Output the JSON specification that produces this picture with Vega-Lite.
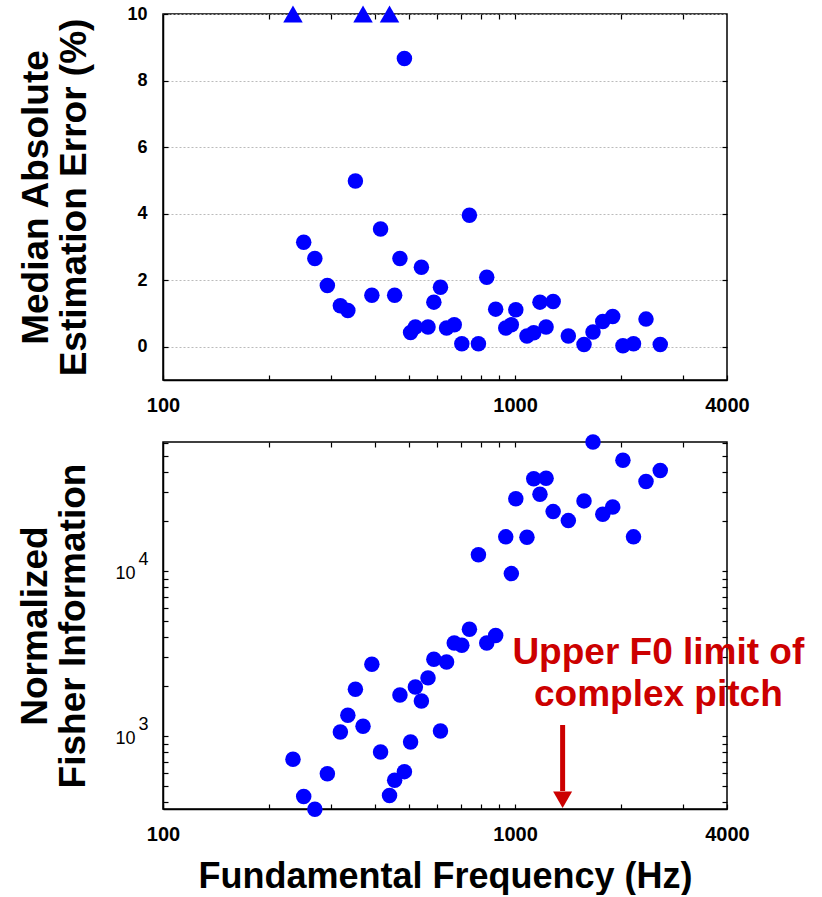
{
  "$schema": "https://vega.github.io/schema/vega-lite/v6.json",
  "background": "white",
  "padding": {"left": 16, "top": 4, "right": 5, "bottom": 0},
  "datasets": {
    "pts": [
      {"f": 234, "err": 10, "fisher": 723, "clipped": true},
      {"f": 251, "err": 3.14, "fisher": 430, "clipped": false},
      {"f": 270, "err": 2.65, "fisher": 360, "clipped": false},
      {"f": 293, "err": 1.84, "fisher": 591, "clipped": false},
      {"f": 319, "err": 1.23, "fisher": 1057, "clipped": false},
      {"f": 335, "err": 1.09, "fisher": 1335, "clipped": false},
      {"f": 352, "err": 4.98, "fisher": 1920, "clipped": false},
      {"f": 370, "err": 10, "fisher": 1145, "clipped": true},
      {"f": 392, "err": 1.55, "fisher": 2720, "clipped": false},
      {"f": 415, "err": 3.54, "fisher": 800, "clipped": false},
      {"f": 440, "err": 10, "fisher": 436, "clipped": true},
      {"f": 455, "err": 1.55, "fisher": 539, "clipped": false},
      {"f": 471, "err": 2.65, "fisher": 1770, "clipped": false},
      {"f": 485, "err": 8.66, "fisher": 608, "clipped": false},
      {"f": 505, "err": 0.43, "fisher": 920, "clipped": false},
      {"f": 521, "err": 0.59, "fisher": 1980, "clipped": false},
      {"f": 542, "err": 2.39, "fisher": 1630, "clipped": false},
      {"f": 566, "err": 0.59, "fisher": 2250, "clipped": false},
      {"f": 588, "err": 1.34, "fisher": 2920, "clipped": false},
      {"f": 614, "err": 1.79, "fisher": 1072, "clipped": false},
      {"f": 639, "err": 0.56, "fisher": 2810, "clipped": false},
      {"f": 672, "err": 0.66, "fisher": 3660, "clipped": false},
      {"f": 706, "err": 0.09, "fisher": 3550, "clipped": false},
      {"f": 742, "err": 3.95, "fisher": 4440, "clipped": false},
      {"f": 787, "err": 0.09, "fisher": 12560, "clipped": false},
      {"f": 831, "err": 2.09, "fisher": 3660, "clipped": false},
      {"f": 881, "err": 1.13, "fisher": 4060, "clipped": false},
      {"f": 941, "err": 0.56, "fisher": 16100, "clipped": false},
      {"f": 976, "err": 0.66, "fisher": 9640, "clipped": false},
      {"f": 1005, "err": 1.11, "fisher": 27400, "clipped": false},
      {"f": 1081, "err": 0.32, "fisher": 16000, "clipped": false},
      {"f": 1130, "err": 0.42, "fisher": 36200, "clipped": false},
      {"f": 1177, "err": 1.34, "fisher": 29200, "clipped": false},
      {"f": 1225, "err": 0.59, "fisher": 36500, "clipped": false},
      {"f": 1283, "err": 1.36, "fisher": 22900, "clipped": false},
      {"f": 1417, "err": 0.32, "fisher": 20200, "clipped": false},
      {"f": 1570, "err": 0.07, "fisher": 26600, "clipped": false},
      {"f": 1665, "err": 0.44, "fisher": 60500, "clipped": false},
      {"f": 1775, "err": 0.76, "fisher": 22100, "clipped": false},
      {"f": 1894, "err": 0.91, "fisher": 24400, "clipped": false},
      {"f": 2025, "err": 0.03, "fisher": 46900, "clipped": false},
      {"f": 2170, "err": 0.09, "fisher": 16100, "clipped": false},
      {"f": 2355, "err": 0.83, "fisher": 34900, "clipped": false},
      {"f": 2585, "err": 0.07, "fisher": 40700, "clipped": false}
    ],
    "arrow": [{"f": 1365, "top": 1166, "bottom": 464, "tip": 411}],
    "note": [{"f": 2553, "fisher": 2730, "label": "Upper F0 limit of|complex pitch"}]
  },
  "spacing": 62,
  "bounds": "flush",
  "vconcat": [
    {
      "width": 564,
      "height": 366,
      "data": {"name": "pts"},
      "layer": [
        {
          "transform": [{"filter": "!datum.clipped"}],
          "mark": {"type": "circle", "size": 240, "color": "#0000ff", "opacity": 1, "clip": false},
          "encoding": {
            "x": {"field": "f", "type": "quantitative",
              "scale": {"type": "log", "domain": [100, 4000], "nice": false},
              "axis": {"orient": "bottom", "title": null, "grid": false,
                "values": [100, 200, 300, 400, 500, 600, 700, 800, 900, 1000, 2000, 3000, 4000],
                "labelExpr": "datum.value == 100 || datum.value == 1000 || datum.value == 4000 ? '' + datum.value : ''",
                "tickSize": -5, "labelPadding": 20, "labelFontSize": 20, "labelFontWeight": "bold",
                "labelFlush": false, "labelOverlap": false}},
            "y": {"field": "err", "type": "quantitative",
              "scale": {"domain": [-1, 10], "nice": false, "zero": false},
              "axis": {"orient": "left", "values": [0, 2, 4, 6, 8, 10],
                "title": ["Median Absolute", "Estimation Error (%)"],
                "titleFontSize": 37, "titleFontWeight": "bold", "titleLineHeight": 38, "titlePadding": 33,
                "grid": true, "gridDash": [2, 2], "gridColor": "#bbbbbb", "gridWidth": 1,
                "tickSize": -5, "labelPadding": 21, "labelFontSize": 18, "labelFontWeight": "bold", "labelOverlap": false}}
          }
        },
        {
          "transform": [{"filter": "datum.clipped"}],
          "mark": {"type": "point", "shape": "triangle-up", "filled": true, "size": 380, "color": "#0000ff", "opacity": 1, "clip": false},
          "encoding": {
            "x": {"field": "f", "type": "quantitative",
              "scale": {"type": "log", "domain": [100, 4000], "nice": false},
              "axis": {"orient": "top", "title": null, "labels": false, "domain": false, "grid": false,
                "values": [200, 300, 400, 500, 600, 700, 800, 900, 1000, 2000, 3000], "tickSize": -5}},
            "y": {"field": "err", "type": "quantitative",
              "scale": {"domain": [-1, 10], "nice": false, "zero": false},
              "axis": {"orient": "right", "title": null, "labels": false, "domain": false, "grid": false,
                "values": [0, 2, 4, 6, 8], "tickSize": -5}}
          }
        }
      ],
      "resolve": {"axis": {"x": "independent", "y": "independent"}}
    },
    {
      "width": 564,
      "height": 367,
      "layer": [
        {
          "data": {"name": "pts"},
          "mark": {"type": "circle", "size": 240, "color": "#0000ff", "opacity": 1, "clip": false},
          "encoding": {
            "x": {"field": "f", "type": "quantitative",
              "scale": {"type": "log", "domain": [100, 4000], "nice": false},
              "axis": {"orient": "bottom", "title": "Fundamental Frequency (Hz)",
                "titleFontSize": 36, "titleFontWeight": "bold", "titlePadding": 15, "grid": false,
                "values": [100, 200, 300, 400, 500, 600, 700, 800, 900, 1000, 2000, 3000, 4000],
                "labelExpr": "datum.value == 100 || datum.value == 1000 || datum.value == 4000 ? '' + datum.value : ''",
                "tickSize": -5, "labelPadding": 20, "labelFontSize": 20, "labelFontWeight": "bold",
                "labelFlush": false, "labelOverlap": false}},
            "y": {"field": "fisher", "type": "quantitative",
              "scale": {"type": "log", "domain": [361, 60500], "nice": false},
              "axis": {"orient": "left",
                "values": [400, 500, 600, 700, 800, 900, 1000, 2000, 3000, 4000, 5000, 6000, 7000, 8000, 9000, 10000, 20000, 30000, 40000, 50000, 60000],
                "labelExpr": "datum.value == 1000 ? ['3', '10\u2800'] : datum.value == 10000 ? ['4', '10\u2800'] : ''",
                "labelBaseline": "alphabetic", "labelOffset": -6.5, "labelLineHeight": 14,
                "title": ["Normalized", "Fisher Information"],
                "titleFontSize": 37, "titleFontWeight": "bold", "titleLineHeight": 38, "titlePadding": 22,
                "grid": false, "tickSize": -5, "labelPadding": 20, "labelFontSize": 18, "labelFontWeight": "normal", "labelOverlap": false}}
          }
        },
        {
          "data": {"name": "arrow"},
          "mark": {"type": "rule", "color": "#cc0000", "strokeWidth": 5},
          "encoding": {
            "x": {"field": "f", "type": "quantitative",
              "scale": {"type": "log", "domain": [100, 4000], "nice": false},
              "axis": {"orient": "top", "title": null, "labels": false, "domain": false, "grid": false,
                "values": [200, 300, 400, 500, 600, 700, 800, 900, 1000, 2000, 3000], "tickSize": -5}},
            "y": {"field": "top", "type": "quantitative",
              "scale": {"type": "log", "domain": [361, 60500], "nice": false},
              "axis": {"orient": "right", "title": null, "labels": false, "domain": false, "grid": false,
                "values": [400, 500, 600, 700, 800, 900, 1000, 2000, 3000, 4000, 5000, 6000, 7000, 8000, 9000, 10000, 20000, 30000, 40000, 50000, 60000],
                "tickSize": -5}},
            "y2": {"field": "bottom"}
          }
        },
        {
          "data": {"name": "arrow"},
          "mark": {"type": "point", "shape": "triangle-down", "filled": true, "size": 361, "color": "#cc0000", "opacity": 1, "clip": false},
          "encoding": {
            "x": {"field": "f", "type": "quantitative", "scale": {"type": "log", "domain": [100, 4000], "nice": false}, "axis": null},
            "y": {"field": "tip", "type": "quantitative", "scale": {"type": "log", "domain": [361, 60500], "nice": false}, "axis": null}
          }
        },
        {
          "data": {"name": "note"},
          "mark": {"type": "text", "color": "#cc0000", "font": "Liberation Sans", "fontSize": 37, "fontWeight": "bold",
            "align": "center", "baseline": "alphabetic", "lineBreak": "|", "lineHeight": 42, "clip": false},
          "encoding": {
            "x": {"field": "f", "type": "quantitative", "scale": {"type": "log", "domain": [100, 4000], "nice": false}, "axis": null},
            "y": {"field": "fisher", "type": "quantitative", "scale": {"type": "log", "domain": [361, 60500], "nice": false}, "axis": null},
            "text": {"field": "label", "type": "nominal"}
          }
        }
      ],
      "resolve": {"axis": {"x": "independent", "y": "independent"}}
    }
  ],
  "config": {
    "font": "Liberation Sans",
    "view": {"stroke": "black", "strokeWidth": 1.5},
    "axis": {"domainColor": "black", "domainWidth": 1.5, "tickColor": "black", "tickWidth": 1.2,
      "labelColor": "black", "titleColor": "black", "labelFont": "Liberation Sans", "titleFont": "Liberation Sans"}
  }
}
